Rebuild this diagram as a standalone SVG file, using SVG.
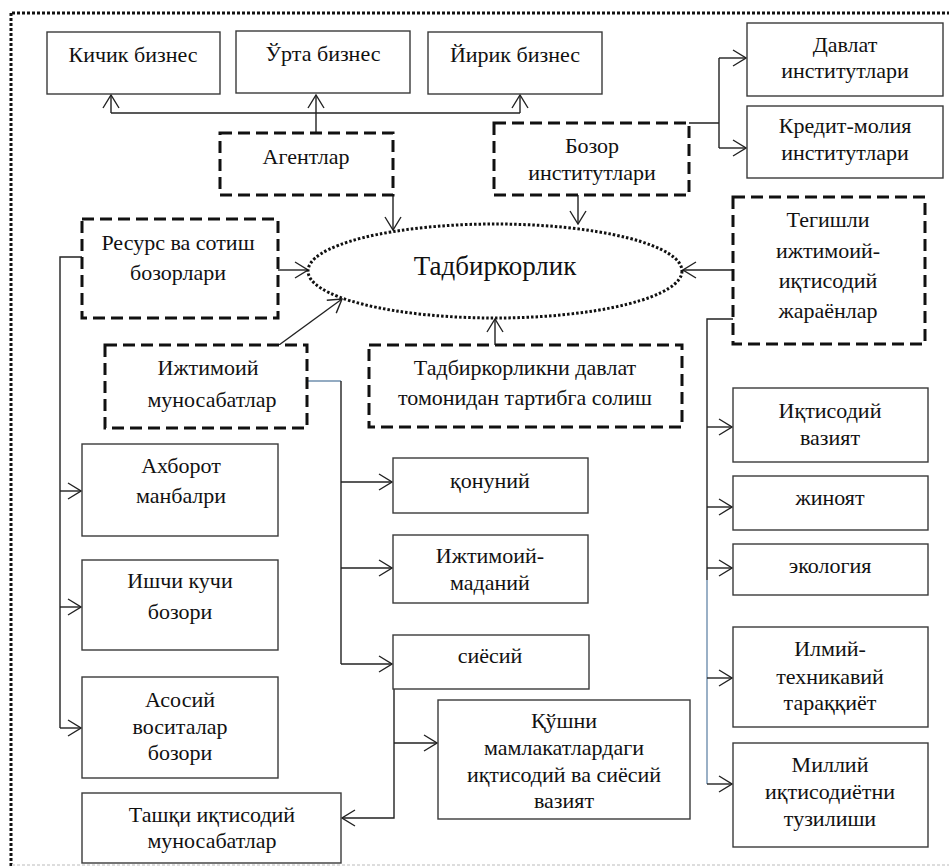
<svg xmlns="http://www.w3.org/2000/svg" width="949" height="868" viewBox="0 0 949 868">
<style>
.box{fill:#fff;stroke:#3a3a3a;stroke-width:1.4}
.dbox{fill:#fff;stroke:#111;stroke-width:3;stroke-dasharray:12 6}
.t{font-family:"Times New Roman","Liberation Serif","DejaVu Serif","Noto Serif",Georgia,serif;font-size:22px;fill:#111;text-anchor:middle}
.big{font-size:27px}
.c{fill:none;stroke:#222;stroke-width:1.4}
.cb{fill:none;stroke:#6f8fae;stroke-width:1.4}
.arr{marker-end:url(#a)}
</style>
<defs>
<marker id="a" viewBox="0 0 15 18" refX="14" refY="9" markerWidth="15" markerHeight="18" markerUnits="userSpaceOnUse" orient="auto">
<path d="M1,1 L14,9 L1,17" fill="none" stroke="#222" stroke-width="1.4"/>
</marker>
</defs>
<rect width="949" height="868" fill="#fff"/>
<g id="frame">
<path d="M12,13 H949" fill="none" stroke="#111" stroke-width="3" stroke-dasharray="3 2"/>
<path d="M11,13 V868" fill="none" stroke="#111" stroke-width="3" stroke-dasharray="3 2"/>
<path d="M12,865 H949" fill="none" stroke="#ddd" stroke-width="2" stroke-dasharray="3 2"/>
</g>
<g id="connectors">
<path class="c" d="M111,113 H520"/>
<path class="c arr" d="M111,113 V95"/>
<path class="c arr" d="M316,133 V95"/>
<path class="c arr" d="M520,113 V95"/>
<path class="c arr" d="M393,195 V230"/>
<path class="c arr" d="M578,195 V224"/>
<path class="c" d="M689,123 H719 M719,58 V148"/>
<path class="c arr" d="M719,58 H746"/>
<path class="c arr" d="M719,148 H746"/>
<path class="c arr" d="M278,270 H308"/>
<path class="c" d="M82,257 H60 V728"/>
<path class="c arr" d="M60,491 H81"/>
<path class="c arr" d="M60,607 H81"/>
<path class="c arr" d="M60,728 H81"/>
<path class="c arr" d="M279,345 L342,299"/>
<path class="cb" d="M307,381 H341"/>
<path class="c" d="M341,381 V664"/>
<path class="c arr" d="M341,482 H392"/>
<path class="c arr" d="M341,568 H392"/>
<path class="c arr" d="M341,664 H392"/>
<path class="c arr" d="M495,345 V319"/>
<path class="c arr" d="M733,270 H683"/>
<path class="c" d="M733,319 H707 V580"/>
<path class="cb" d="M707,580 V784"/>
<path class="c arr" d="M707,427 H732"/>
<path class="c arr" d="M707,507 H732"/>
<path class="c arr" d="M707,568 H732"/>
<path class="c arr" d="M707,678 H732"/>
<path class="c arr" d="M707,784 H732"/>
<path class="c arr" d="M394,689 V818 H342"/>
<path class="c arr" d="M394,743 H437"/>
</g>
<g id="kichik"><rect class="box" x="47" y="32" width="173" height="62"/><text class="t" x="133" y="62">Кичик бизнес</text></g>
<g id="urta"><rect class="box" x="236" y="31" width="174" height="62"/><text class="t" x="323" y="61">Ўрта бизнес</text></g>
<g id="yirik"><rect class="box" x="428" y="32" width="174" height="62"/><text class="t" x="515" y="62">Йирик бизнес</text></g>
<g id="davlat"><rect class="box" x="747" y="23" width="196" height="73"/><text class="t" x="845" y="52">Давлат</text><text class="t" x="845" y="78">институтлари</text></g>
<g id="kredit"><rect class="box" x="747" y="106" width="196" height="72"/><text class="t" x="845" y="133">Кредит-молия</text><text class="t" x="845" y="160">институтлари</text></g>
<g id="agentlar"><rect class="dbox" x="220" y="133" width="173" height="62"/><text class="t" x="306" y="164">Агентлар</text></g>
<g id="bozor"><rect class="dbox" x="494" y="123" width="195" height="72"/><text class="t" x="592" y="153">Бозор</text><text class="t" x="592" y="180">институтлари</text></g>
<g id="resurs"><rect class="dbox" x="82" y="219" width="196" height="99"/><text class="t" x="178" y="250">Ресурс ва сотиш</text><text class="t" x="178" y="280">бозорлари</text></g>
<g id="tadbirkorlik"><ellipse cx="495" cy="271" rx="187" ry="47" fill="#fff" stroke="#111" stroke-width="3" stroke-dasharray="2.5 2"/><text class="t big" x="495" y="275">Тадбиркорлик</text></g>
<g id="tegishli"><rect class="dbox" x="733" y="197" width="192" height="147"/><text class="t" x="828" y="227">Тегишли</text><text class="t" x="828" y="258">ижтимоий-</text><text class="t" x="828" y="288">иқтисодий</text><text class="t" x="828" y="318">жараёнлар</text></g>
<g id="ijtimoiy"><rect class="dbox" x="105" y="345" width="202" height="83"/><text class="t" x="208" y="375">Ижтимоий</text><text class="t" x="212" y="407">муносабатлар</text></g>
<g id="davlatTartib"><rect class="dbox" x="369" y="345" width="313" height="82"/><text class="t" x="525" y="375">Тадбиркорликни давлат</text><text class="t" x="525" y="405">томонидан тартибга солиш</text></g>
<g id="iqtisodiyVaziyat"><rect class="box" x="733" y="388" width="195" height="74"/><text class="t" x="830" y="418">Иқтисодий</text><text class="t" x="830" y="445">вазият</text></g>
<g id="jinoyat"><rect class="box" x="733" y="476" width="195" height="54"/><text class="t" x="830" y="505">жиноят</text></g>
<g id="ekologiya"><rect class="box" x="733" y="544" width="195" height="51"/><text class="t" x="830" y="573">экология</text></g>
<g id="ilmiy"><rect class="box" x="733" y="627" width="195" height="100"/><text class="t" x="830" y="656">Илмий-</text><text class="t" x="830" y="684">техникавий</text><text class="t" x="830" y="710">тараққиёт</text></g>
<g id="milliy"><rect class="box" x="733" y="743" width="195" height="104"/><text class="t" x="830" y="772">Миллий</text><text class="t" x="830" y="799">иқтисодиётни</text><text class="t" x="830" y="826">тузилиши</text></g>
<g id="axborot"><rect class="box" x="82" y="444" width="196" height="92"/><text class="t" x="181" y="473">Ахборот</text><text class="t" x="181" y="503">манбалри</text></g>
<g id="ishchi"><rect class="box" x="82" y="560" width="196" height="90"/><text class="t" x="180" y="588">Ишчи кучи</text><text class="t" x="180" y="619">бозори</text></g>
<g id="asosiy"><rect class="box" x="82" y="677" width="196" height="101"/><text class="t" x="180" y="707">Асосий</text><text class="t" x="180" y="734">воситалар</text><text class="t" x="180" y="760">бозори</text></g>
<g id="tashqi"><rect class="box" x="82" y="793" width="259" height="70"/><text class="t" x="212" y="822">Ташқи иқтисодий</text><text class="t" x="212" y="848">муносабатлар</text></g>
<g id="qonuniy"><rect class="box" x="393" y="458" width="195" height="55"/><text class="t" x="490" y="488">қонуний</text></g>
<g id="madaniy"><rect class="box" x="393" y="535" width="195" height="68"/><text class="t" x="490" y="563">Ижтимоий-</text><text class="t" x="490" y="590">маданий</text></g>
<g id="siyosiy"><rect class="box" x="393" y="635" width="196" height="54"/><text class="t" x="490" y="663">сиёсий</text></g>
<g id="qushni"><rect class="box" x="438" y="700" width="252" height="119"/><text class="t" x="564" y="728">Қўшни</text><text class="t" x="564" y="755">мамлакатлардаги</text><text class="t" x="564" y="782">иқтисодий ва сиёсий</text><text class="t" x="564" y="808">вазият</text></g>
</svg>
